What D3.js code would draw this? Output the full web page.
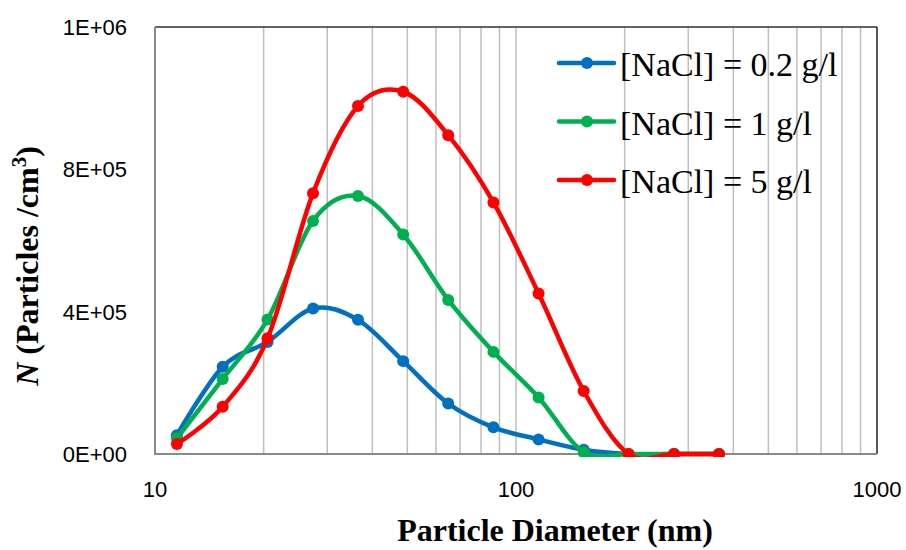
<!DOCTYPE html>
<html>
<head>
<meta charset="utf-8">
<script src="https://cdn.jsdelivr.net/npm/d3@7"></script>
<style>
  body { margin: 0; background: #fff; }
  svg { display: block; }
</style>
</head>
<body>
<svg width="906" height="550"></svg>
<script>
// particle size distribution, DMA bins (nm)
var diameters = [11.5, 15.4, 20.5, 27.4, 36.5, 48.7, 64.9, 86.6, 115.5, 154, 205, 274, 365];

var seriesNames = ["[NaCl] = 0.2 g/l", "[NaCl] = 1 g/l", "[NaCl] = 5 g/l"];
var seriesColors = ["#0070C0", "#00B050", "#FF0000"];

var nacl02 = [53000, 245000, 315000, 409000, 377000, 261000, 142000, 75000, 41000, 12000, 0, 0, 0];
var nacl1 = [44000, 211000, 378000, 655000, 725000, 617000, 433000, 287000, 159000, 5000, 0, 0, 0];
var nacl5 = [28000, 133000, 325000, 733000, 978000, 1018000, 896000, 707000, 451000, 177000, 0, 0, 0];

var seriesValues = [nacl02, nacl1, nacl5];

var yTicks = [0, 400000, 800000, 1200000];
var xTicks = [10, 100, 1000];

var svg = d3.select("svg"),
    margin = { left: 155, top: 27, right: 877, bottom: 454 };

var x = d3.scaleLog().domain([10, 1000]).range([margin.left, margin.right]);
var y = d3.scaleLinear().domain([0, 1200000]).range([margin.bottom, margin.top]);

// excel style "1E+06"
function sci(v) {
    if (v === 0) return "0E+00";
    var e = Math.floor(Math.log10(v));
    var m = Math.round(v / Math.pow(10, e));
    if (m >= 10) { m = 1; e += 1; }
    return m + "E" + (e < 0 ? "-" : "+") + (Math.abs(e) < 10 ? "0" : "") + Math.abs(e);
}

// plot area clip, a little slack so zero lines keep their width
svg.append("defs").append("clipPath")
    .attr("id", "plotclip")
    .append("rect")
    .attr("x", margin.left - 8)
    .attr("y", margin.top - 8)
    .attr("width", margin.right - margin.left + 16)
    .attr("height", margin.bottom - margin.top + 11);

// vertical minor gridlines
var grid = [];
for (var dec = 10; dec < 1000; dec *= 10) {
    for (var k = 1; k < 10; k++) {
        if (k * dec > 10) grid.push(k * dec);
    }
}
svg.append("g").selectAll("line")
    .data(grid)
    .enter().append("line")
    .attr("x1", function (d) { return x(d); })
    .attr("x2", function (d) { return x(d); })
    .attr("y1", margin.top)
    .attr("y2", margin.bottom)
    .style("stroke", "#bfbfbf")
    .style("stroke-width", 1.5);

// frame: top and right dark, left and bottom gray
svg.append("line")
    .attr("x1", margin.left).attr("x2", margin.right)
    .attr("y1", margin.top).attr("y2", margin.top)
    .style("stroke", "#303030").style("stroke-width", 1.3);
svg.append("line")
    .attr("x1", margin.right).attr("x2", margin.right)
    .attr("y1", margin.top).attr("y2", margin.bottom)
    .style("stroke", "#000").style("stroke-width", 1.3);
svg.append("line")
    .attr("x1", margin.left).attr("x2", margin.left)
    .attr("y1", margin.top).attr("y2", margin.bottom + 1)
    .style("stroke", "#8a8a8a").style("stroke-width", 2);
svg.append("line")
    .attr("x1", margin.left - 1).attr("x2", margin.right)
    .attr("y1", margin.bottom).attr("y2", margin.bottom)
    .style("stroke", "#8a8a8a").style("stroke-width", 2);

// y tick labels
svg.append("g").selectAll("text")
    .data(yTicks)
    .enter().append("text")
    .attr("x", 127)
    .attr("y", function (d) { return y(d); })
    .attr("dy", "0.36em")
    .attr("text-anchor", "end")
    .style("font-family", "'Liberation Sans', Arial, sans-serif")
    .style("font-size", "22px")
    .style("fill", "#000")
    .text(sci);

// x tick labels
svg.append("g").selectAll("text")
    .data(xTicks)
    .enter().append("text")
    .attr("x", function (d) { return x(d); })
    .attr("y", 497)
    .attr("text-anchor", "middle")
    .style("font-family", "'Liberation Sans', Arial, sans-serif")
    .style("font-size", "22px")
    .style("fill", "#000")
    .text(function (d) { return d; });

// axis titles
svg.append("text")
    .attr("x", 555)
    .attr("y", 541)
    .attr("text-anchor", "middle")
    .style("font-family", "'Liberation Serif', 'Times New Roman', serif")
    .style("font-weight", "bold")
    .style("font-size", "32px")
    .text("Particle Diameter (nm)");

var yt = svg.append("text")
    .attr("transform", "translate(38,266) rotate(-90)")
    .attr("text-anchor", "middle")
    .style("font-family", "'Liberation Serif', 'Times New Roman', serif")
    .style("font-weight", "bold")
    .style("font-size", "32px");
yt.append("tspan").style("font-style", "italic").text("N");
yt.append("tspan").text(" (Particles /cm");
yt.append("tspan").attr("dy", -12).style("font-size", "21px").text("3");
yt.append("tspan").attr("dy", 12).text(")");

// series
var line = d3.line()
    .x(function (d) { return x(d[0]); })
    .y(function (d) { return y(d[1]); })
    .curve(d3.curveCardinal.tension(0));

seriesValues.forEach(function (vals, i) {
    var pts = diameters.map(function (dm, j) { return [dm, vals[j]]; });
    var g = svg.append("g").attr("clip-path", "url(#plotclip)");
    g.append("path")
        .attr("d", line(pts))
        .style("fill", "none")
        .style("stroke", seriesColors[i])
        .style("stroke-width", 4.5)
        .style("stroke-linejoin", "round");
    g.selectAll("circle")
        .data(pts)
        .enter().append("circle")
        .attr("cx", function (d) { return x(d[0]); })
        .attr("cy", function (d) { return y(d[1]); })
        .attr("r", 6)
        .style("fill", seriesColors[i]);
});

// legend
var legend = svg.append("g").selectAll("g")
    .data(seriesNames)
    .enter().append("g")
    .attr("transform", function (d, i) { return "translate(559," + (63 + i * 58.5) + ")"; });
legend.append("line")
    .attr("x1", 0).attr("x2", 55)
    .style("stroke", function (d, i) { return seriesColors[i]; })
    .style("stroke-width", 4.5)
    .style("stroke-linecap", "round");
legend.append("circle")
    .attr("cx", 28).attr("r", 6)
    .style("fill", function (d, i) { return seriesColors[i]; });
legend.append("text")
    .attr("x", 61)
    .attr("y", 13)
    .style("font-family", "'Liberation Serif', 'Times New Roman', serif")
    .style("font-size", "34px")
    .text(function (d) { return d; });
</script>
</body>
</html>
